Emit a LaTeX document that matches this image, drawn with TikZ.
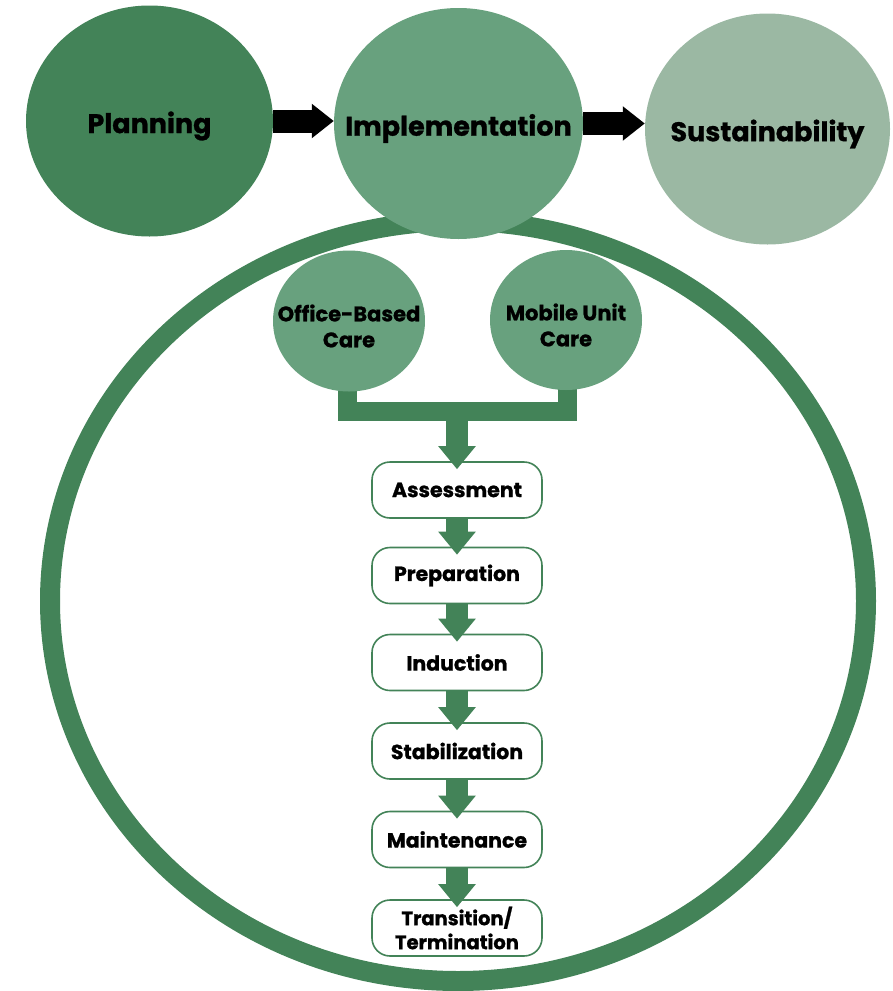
\documentclass[tikz,border=0pt]{standalone}
\usepackage{fontspec}
\setmainfont{Poppins}[BoldFeatures={FakeBold=1}]
\usetikzlibrary{shapes.geometric,arrows.meta}
\definecolor{dkgreen}{RGB}{67,131,88}
\definecolor{mdgreen}{RGB}{104,161,126}
\definecolor{ltgreen}{RGB}{155,184,163}
\begin{document}
\begin{tikzpicture}[x=1pt,y=-1pt,
  phase/.style={ellipse,inner sep=0pt,minimum width=247pt,minimum height=231pt},
  phaselbl/.style={font=\bfseries\fontsize{27}{30}\selectfont,inner sep=0pt,yshift=-5pt},
  mode/.style={ellipse,fill=mdgreen,inner sep=0pt,minimum width=152pt,minimum height=141pt},
  modelbl/.style={font=\bfseries\fontsize{21}{26}\selectfont,align=center,inner sep=0pt,yshift=-5pt},
  stepbox/.style={draw=dkgreen,line width=1.6pt,fill=white,rounded corners=18pt,
    minimum width=170pt,minimum height=56pt,inner sep=0pt,align=center,
    font=\bfseries\fontsize{20.5}{24}\selectfont},
  barrow/.style={draw=black,line width=23pt,-{Triangle[length=22pt,width=33pt]}},
  garrow/.style={draw=dkgreen,color=dkgreen,line width=22pt,-{Triangle[length=23pt,width=36pt]}},
  joinbar/.style={draw=dkgreen,line width=19pt,line join=miter}
]
\useasboundingbox (0,0) rectangle (892,991);
% big ring
\draw[dkgreen,line width=20pt] (458,601) ellipse [x radius=408pt,y radius=380pt];
% phases
\node[phase,fill=dkgreen,label={[phaselbl]center:Planning}] (planning) at (149.5,121) {};
\node[phase,fill=mdgreen,minimum width=249pt,label={[phaselbl]center:Implementation}] (impl) at (458.5,123.5) {};
\node[phase,fill=ltgreen,minimum width=245pt,label={[phaselbl]center:Sustainability}] (sust) at (767.5,129) {};
\draw[barrow] (planning.east) -- (impl.west |- planning.east);
\draw[barrow] (impl.east) -- (sust.west |- impl.east);
% care modes
\coordinate (junction) at (457,411);
\draw[joinbar] ([yshift=6pt]347.5,392) -- (347.5,411) -- (567,411) -- ([yshift=6pt]567,391);
\node[mode,label={[modelbl]center:{Office-Based\\Care}}] (office) at (349,321) {};
\node[mode,minimum height=140pt,label={[modelbl]center:{Mobile Unit\\Care}}] (mobile) at (566,320) {};
% steps
\node[stepbox] (assess) at (457,490) {Assessment};
\node[stepbox] (prep) at (457,575.5) {Preparation};
\node[stepbox] (induct) at (457,662.5) {Induction};
\node[stepbox] (stab) at (457,751) {Stabilization};
\node[stepbox] (maint) at (457,839.5) {Maintenance};
\node[stepbox,font=\bfseries\fontsize{19.5}{24}\selectfont] (trans) at (457,928) {Transition/\\Termination};
\draw[garrow] (junction) -- ([yshift=-8pt]assess.north);
\draw[garrow] (assess.south) -- ([yshift=-8pt]prep.north);
\draw[garrow] (prep.south) -- ([yshift=-8pt]induct.north);
\draw[garrow] (induct.south) -- ([yshift=-8pt]stab.north);
\draw[garrow] (stab.south) -- ([yshift=-8pt]maint.north);
\draw[garrow] (maint.south) -- ([yshift=-8pt]trans.north);
\end{tikzpicture}
\end{document}
